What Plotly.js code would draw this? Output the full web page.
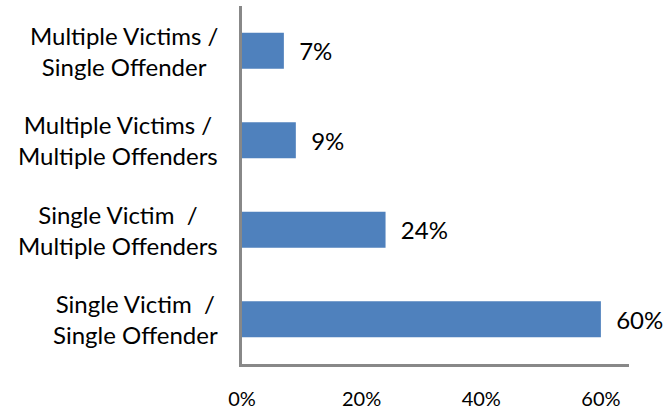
<!DOCTYPE html>
<html>
<head>
<meta charset="utf-8">
<script src="https://cdn.plot.ly/plotly-3.0.1.min.js"></script>
<style>html,body{margin:0;padding:0;background:#fff;}#chart{width:672px;height:412px;}</style>
</head>
<body>
<div id="chart"></div>
<script>
// Data (bottom to top)
var categories = [
  "Single Victim  /<br>Single Offender",
  "Single Victim  /<br>Multiple Offenders",
  "Multiple Victims /<br>Multiple Offenders",
  "Multiple Victims /<br>Single Offender"
];
var shares = [0.60, 0.24, 0.09, 0.07];
var tickValues = [0, 0.2, 0.4, 0.6];
var tickLabels = ["0%", "20%", "40%", "60%"];

var FONT = "Lato, 'Liberation Sans', sans-serif";

var trace = {
  type: "bar",
  orientation: "h",
  y: categories,
  x: shares,
  width: 0.4,
  marker: {color: "#4F81BD", line: {width: 0}},
  text: shares.map(function(v){ return "\u00a0\u00a0" + Math.round(v*100) + "%"; }),
  textposition: "outside",
  textfont: {family: FONT, size: 24, color: "#000"},
  cliponaxis: false,
  hoverinfo: "skip"
};

var annotations = categories.map(function(c){
  return {
    xref: "paper", yref: "y", x: 0, y: c, xshift: -22,
    xanchor: "right", yanchor: "middle", align: "center",
    text: c, showarrow: false,
    font: {family: FONT, size: 24, color: "#000"}
  };
});

var layout = {
  width: 672, height: 412,
  margin: {l: 242, r: 43, t: 6, b: 48},
  paper_bgcolor: "#fff", plot_bgcolor: "#fff",
  showlegend: false,
  xaxis: {
    range: [0, 0.647],
    tickvals: tickValues, ticktext: tickLabels,
    showgrid: false, zeroline: false,
    showline: true, linecolor: "#888888", linewidth: 3,
    ticks: "", ticklabelstandoff: 15,
    tickfont: {family: FONT, size: 20, color: "#000"},
    fixedrange: true
  },
  yaxis: {
    type: "category",
    categoryorder: "array", categoryarray: categories,
    range: [-0.5, 3.5],
    showticklabels: false,
    showgrid: false, zeroline: false,
    showline: true, linecolor: "#888888", linewidth: 3,
    ticks: "", fixedrange: true
  },
  annotations: annotations
};

Plotly.newPlot("chart", [trace], layout, {displayModeBar: false, staticPlot: true});
</script>
</body>
</html>
